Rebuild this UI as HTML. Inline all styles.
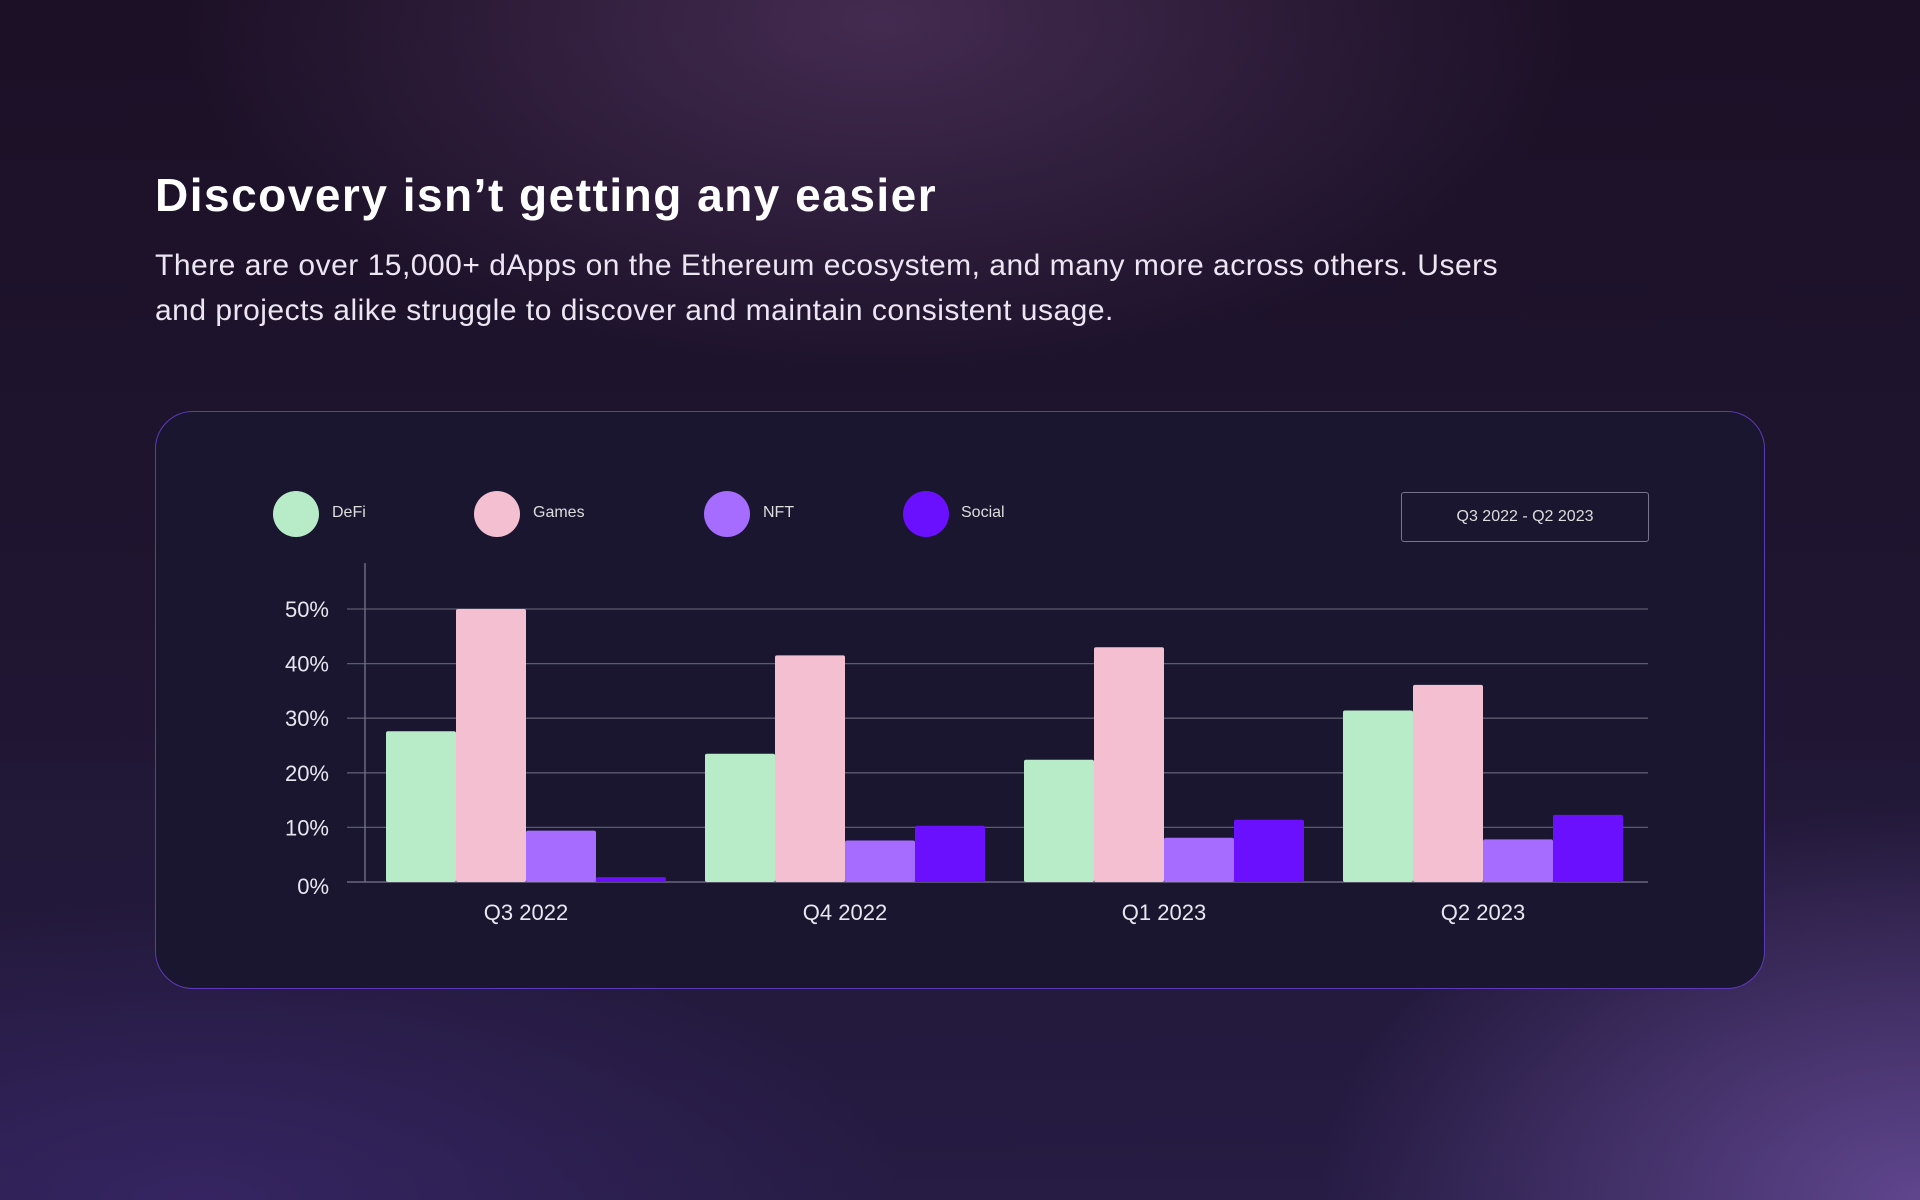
<!DOCTYPE html>
<html><head><meta charset="utf-8"><style>
html,body{margin:0;padding:0;width:1920px;height:1200px;overflow:hidden;}
body{background:
radial-gradient(ellipse 700px 350px at 880px 20px, rgba(100,65,115,0.55), rgba(0,0,0,0) 100%),
radial-gradient(ellipse 600px 400px at 1920px 1200px, rgba(110,80,160,0.8), rgba(0,0,0,0) 100%),
radial-gradient(ellipse 700px 300px at 200px 1200px, rgba(60,40,110,0.7), rgba(0,0,0,0) 100%),
linear-gradient(180deg,#1c1026 0%,#1f1530 50%,#261c44 100%);
font-family:"Liberation Sans",sans-serif;color:#fff;position:relative;}
h1{position:absolute;left:155px;top:168px;margin:0;font-size:46px;font-weight:bold;letter-spacing:1.5px;}
p.sub{position:absolute;left:155px;top:243px;margin:0;width:1400px;font-size:30px;line-height:45px;color:#ece6f2;letter-spacing:0.5px;}
.card{position:absolute;left:155px;top:411px;width:1608px;height:576px;border:1.5px solid #5c3ab8;border-radius:38px;background:#1a1630;}
.leg{position:absolute;font-size:16px;color:#ddd;}
.dot{position:absolute;width:46px;height:46px;border-radius:50%;}
.btn{position:absolute;left:1401px;top:492px;width:246px;height:48px;border:1.5px solid #77758a;border-radius:3px;font-size:16px;color:#ddd;text-align:center;line-height:48px;}
svg{position:absolute;left:0;top:0;}
</style></head><body>
<h1>Discovery isn’t getting any easier</h1>
<p class="sub">There are over 15,000+ dApps on the Ethereum ecosystem, and many more across others. Users<br>and projects alike struggle to discover and maintain consistent usage.</p>
<div class="card"></div>
<div class="dot" style="left:273px;top:491px;background:#b8ecc8"></div>
<div class="leg" style="left:332px;top:504px">DeFi</div>
<div class="dot" style="left:474px;top:491px;background:#f5bfd2"></div>
<div class="leg" style="left:533px;top:504px">Games</div>
<div class="dot" style="left:704px;top:491px;background:#a66bff"></div>
<div class="leg" style="left:763px;top:504px">NFT</div>
<div class="dot" style="left:903px;top:491px;background:#6a10ff"></div>
<div class="leg" style="left:961px;top:504px">Social</div>
<div class="btn">Q3 2022 - Q2 2023</div>
<svg id="chart" width="1920" height="1200"></svg>
<script>
const categories=["Q3 2022","Q4 2022","Q1 2023","Q2 2023"];
const defi=[27.6,23.5,22.4,31.4];
const games=[50,41.5,43,36.1];
const nft=[9.4,7.6,8.1,7.8];
const social=[0.9,10.3,11.4,12.3];
const ticks=[0,10,20,30,40,50];
const tickLabels=["0%","10%","20%","30%","40%","50%"];
const series=[defi,games,nft,social];
const colors=["#b8ecc8","#f5bfd2","#a66bff","#6a10ff"];
const names=["defi","games","nft","social"];
const svg=document.getElementById('chart');
const NS="http://www.w3.org/2000/svg";
const y0=882,pxPer=(882-609)/50;
const y=v=>y0-v*pxPer;
const groupX=i=>386+i*319;
const bw=70;
function mk(tag,attrs){const e=document.createElementNS(NS,tag);for(const k in attrs)e.setAttribute(k,attrs[k]);svg.appendChild(e);return e;}
ticks.forEach((t,i)=>{
 const l=mk('line',{x1:347,x2:1648,y1:y(t),y2:y(t),stroke:t===0?'#77758a':'#5c5a70','stroke-width':1.3});
 
 
 const tx=mk('text',{x:329,y:y(t)+(t===0?12:8),'text-anchor':'end','font-size':22,fill:'#e8e6ee','font-family':'Liberation Sans, sans-serif'});
 tx.textContent=tickLabels[i];
 
 
});
const ax=mk('line',{x1:365,x2:365,y1:563,y2:882,stroke:'#77758a','stroke-width':1.3});


categories.forEach((c,i)=>{
 series.forEach((s,j)=>{
  const r=mk('rect',{x:groupX(i)+j*bw,y:y(s[i]),width:bw,height:y0-y(s[i]),fill:colors[j],rx:2});
  
  
 });
 const t=mk('text',{x:groupX(i)+2*bw,y:920,'text-anchor':'middle','font-size':22,fill:'#e8e6ee','font-family':'Liberation Sans, sans-serif'});
 t.textContent=c;
 
 
});
</script>
</body></html>
